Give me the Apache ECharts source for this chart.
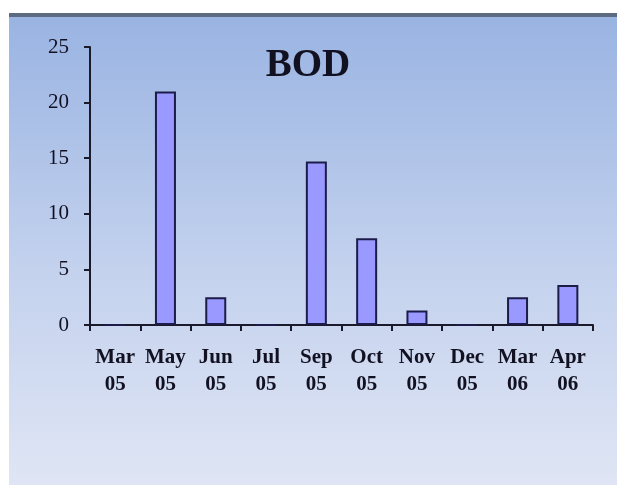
<!DOCTYPE html>
<html><head><meta charset="utf-8">
<script src="https://cdn.jsdelivr.net/npm/echarts@6/dist/echarts.min.js"></script>
<style>html,body{margin:0;padding:0;background:#fff}#c{width:617px;height:485px}</style>
</head><body><div id="c"></div>
<script>
const categories = ['Mar\n05','May\n05','Jun\n05','Jul\n05','Sep\n05','Oct\n05','Nov\n05','Dec\n05','Mar\n06','Apr\n06'];
const bodValues = [0, 21.0, 2.5, 0, 14.7, 7.8, 1.3, 0, 2.5, 3.6];
const yTicks = [0, 5, 10, 15, 20, 25];
const titleText = 'BOD';

const chart = echarts.init(document.getElementById('c'), null, {renderer:'canvas'});
chart.setOption({
  animation: false,
  backgroundColor: '#ffffff',
  graphic: [
    {type:'rect', z:-10, shape:{x:9,y:13,width:608,height:472},
     style:{fill:new echarts.graphic.LinearGradient(0,0,0,1,[
       {offset:0,color:'#99b3e2'},{offset:0.55,color:'#c4d2ee'},{offset:1,color:'#dfe5f4'}])}},
    {type:'rect', z:-9, shape:{x:9,y:13,width:608,height:4}, style:{fill:'#5d6b80'}}
  ],
  title: {
    text: titleText, left: 303, top: 41, textAlign:'center',
    textStyle:{fontFamily:'Liberation Serif', fontWeight:'bold', fontSize:39, color:'#111122'}
  },
  grid: {left:90, right:24, top:47, bottom:160},
  xAxis: {
    type:'category', data: categories, boundaryGap:true,
    axisLine:{lineStyle:{color:'#1a1a2a', width:2}},
    axisTick:{show:true, length:6, alignWithLabel:false, lineStyle:{color:'#1a1a2a', width:2}},
    axisLabel:{interval:0, margin:19, fontFamily:'Liberation Serif', fontWeight:'bold', fontSize:21, lineHeight:27, color:'#111122'}
  },
  yAxis: {
    type:'value', min:yTicks[0], max:yTicks[yTicks.length-1], interval:5,
    splitLine:{show:false},
    axisLine:{show:true, lineStyle:{color:'#1a1a2a', width:2}},
    axisTick:{show:true, length:6, lineStyle:{color:'#1a1a2a', width:2}},
    axisLabel:{margin:21, fontFamily:'Liberation Serif', fontSize:21, color:'#111122'}
  },
  series: [{
    type:'bar', data: bodValues, barWidth:21,
    itemStyle:{color:'#9999ff', borderColor:'#1c1c4a', borderWidth:2}
  }]
});
</script></body></html>
